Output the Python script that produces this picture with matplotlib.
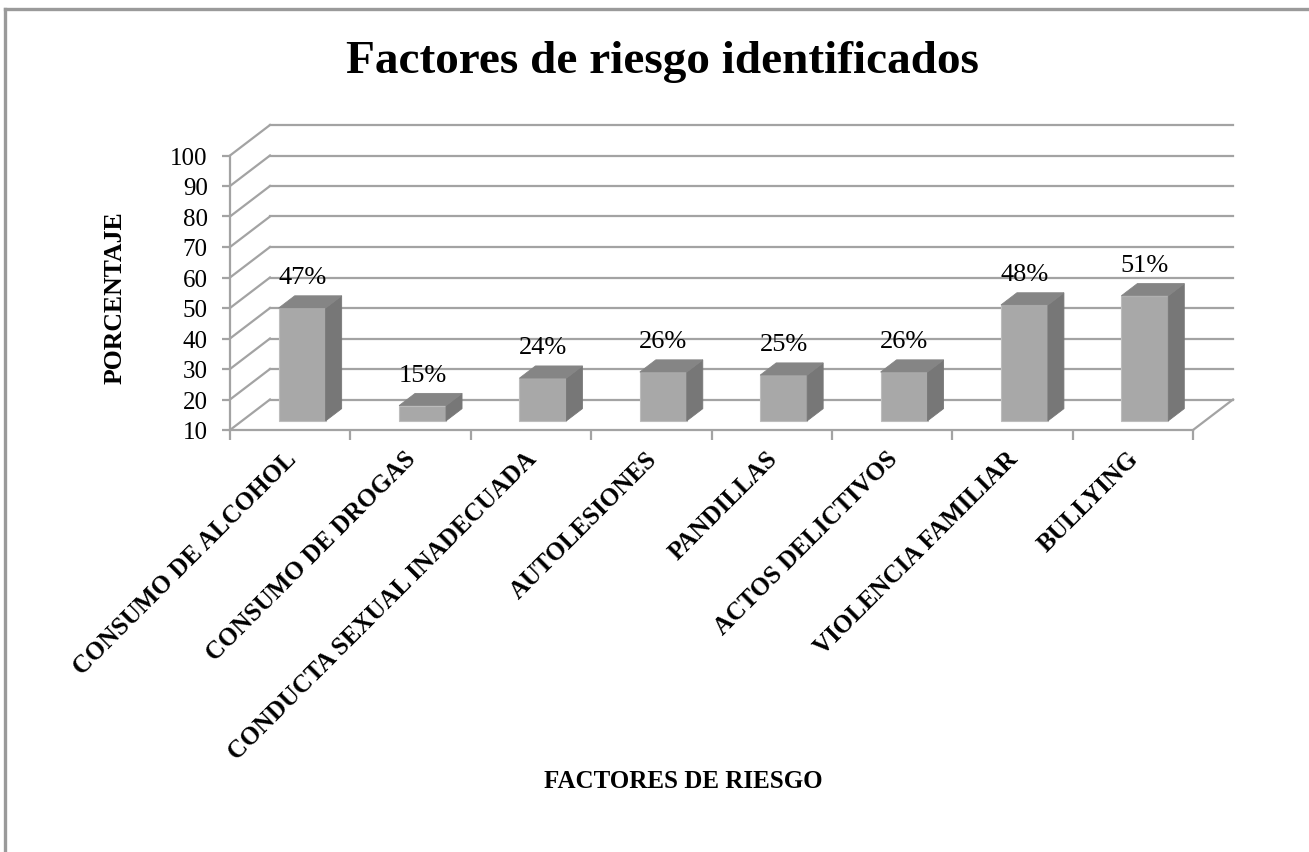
import matplotlib
matplotlib.use('Agg')
import matplotlib.pyplot as plt
from matplotlib.patches import Polygon
from matplotlib.lines import Line2D
from matplotlib.transforms import ScaledTranslation

# ---------------- data ----------------
categories = ['CONSUMO DE ALCOHOL', 'CONSUMO DE DROGAS', 'CONDUCTA SEXUAL INADECUADA',
              'AUTOLESIONES', 'PANDILLAS', 'ACTOS DELICTIVOS', 'VIOLENCIA FAMILIAR', 'BULLYING']
values = [47, 15, 24, 26, 25, 26, 48, 51]
value_labels = ['47%', '15%', '24%', '26%', '25%', '26%', '48%', '51%']
y_ticks = [10, 20, 30, 40, 50, 60, 70, 80, 90, 100]
y_min, y_max = 10, 100

title = 'Factores de riesgo identificados'
x_title = 'FACTORES DE RIESGO'
y_title = 'PORCENTAJE'

# ---------------- style ----------------
SERIF = 'Liberation Serif'
GRID = '#a3a3a3'
FRONT = '#a8a8a8'
SIDE = '#777777'
TOP = '#858585'
EDGE = '#bdbdbd'

W, H = 1309, 853
fig = plt.figure(figsize=(W / 100, H / 100), dpi=100)
L, R, T, B = 230, 1193, 156.5, 431
ax = fig.add_axes([L / W, 1 - B / H, (R - L) / W, (B - T) / H])
n = len(categories)
ax.set_xlim(0, n)
ax.set_ylim(y_min, y_max)

px_per_x = (R - L) / n
ox = 40 / px_per_x       # depth offset in x data units
oy = 10                  # depth offset in y data units

for s in ['top', 'right']:
    ax.spines[s].set_visible(False)
for s in ['left', 'bottom']:
    ax.spines[s].set_color(GRID)
    ax.spines[s].set_linewidth(1.6)

# back wall gridlines and side wall diagonals
for v in y_ticks:
    ax.plot([ox, n + ox], [v + oy, v + oy], color=GRID, lw=1.6, clip_on=False, zorder=1)
    ax.plot([0, ox], [v, v + oy], color=GRID, lw=1.6, clip_on=False, zorder=1)
# floor right edge
ax.plot([n, n + ox], [y_min, y_min + oy], color=GRID, lw=1.6, clip_on=False, zorder=1)

# bars
bw = 0.39
d0, d1 = 0.3, 0.7
for i, v in enumerate(values):
    xc = i + 0.5
    x0 = xc - bw / 2 + d0 * ox
    x1 = xc + bw / 2 + d0 * ox
    yb = y_min + d0 * oy
    yt = v + d0 * oy
    dx = (d1 - d0) * ox
    dy = (d1 - d0) * oy
    front = Polygon([(x0, yb), (x1, yb), (x1, yt), (x0, yt)], closed=True,
                    facecolor=FRONT, edgecolor=EDGE, lw=0.8, clip_on=False, zorder=3)
    side = Polygon([(x1, yb), (x1 + dx, yb + dy), (x1 + dx, yt + dy), (x1, yt)], closed=True,
                   facecolor=SIDE, edgecolor=SIDE, lw=0.6, clip_on=False, zorder=3)
    top = Polygon([(x0, yt), (x1, yt), (x1 + dx, yt + dy), (x0 + dx, yt + dy)], closed=True,
                  facecolor=TOP, edgecolor=TOP, lw=0.6, clip_on=False, zorder=3)
    for p in (front, side, top):
        ax.add_patch(p)
    ax.text((x0 + x1) / 2, yt + dy + 2.5, value_labels[i], ha='center', va='bottom',
            fontsize=19, family=SERIF, color='black', zorder=4, clip_on=False)

# y ticks
ax.set_yticks(y_ticks)
ax.set_yticklabels([str(t) for t in y_ticks], fontsize=18, family=SERIF)
ax.tick_params(axis='y', direction='out', length=6, width=1.6, color=GRID, pad=10)

# x ticks: boundaries as minor ticks, labels at centers
ax.set_xticks([i for i in range(n + 1)], minor=True)
ax.set_xticks([i + 0.5 for i in range(n)])
ax.set_xticklabels(categories, rotation=45, ha='right', rotation_mode='anchor',
                   fontsize=18, family=SERIF, fontweight='bold')
ax.tick_params(axis='x', which='major', length=0, pad=12)
ax.tick_params(axis='x', which='minor', direction='out', length=7, width=1.6, color=GRID)
off = ScaledTranslation(-6 / 100, 0, fig.dpi_scale_trans)
for lab in ax.get_xticklabels():
    lab.set_transform(lab.get_transform() + off)

# titles
fig.text(662 / W, 1 - 62 / H, title, ha='center', va='center', fontsize=34,
         family=SERIF, fontweight='bold')
fig.text(683 / W, 1 - 782 / H, x_title, ha='center', va='center', fontsize=18,
         family=SERIF, fontweight='bold')
fig.text(115 / W, 1 - 298 / H, y_title, ha='center', va='center', fontsize=18.5,
         family=SERIF, fontweight='bold', rotation=90)

# chart border (top and left visible)
fig.add_artist(Line2D([5 / W, 1], [1 - 10 / H, 1 - 10 / H], transform=fig.transFigure,
                      color='#9a9a9a', lw=2.4))
fig.add_artist(Line2D([5 / W, 5 / W], [1 - 10 / H, 0], transform=fig.transFigure,
                      color='#9a9a9a', lw=2.4))

fig.savefig('out.png', dpi=100, facecolor='white')
